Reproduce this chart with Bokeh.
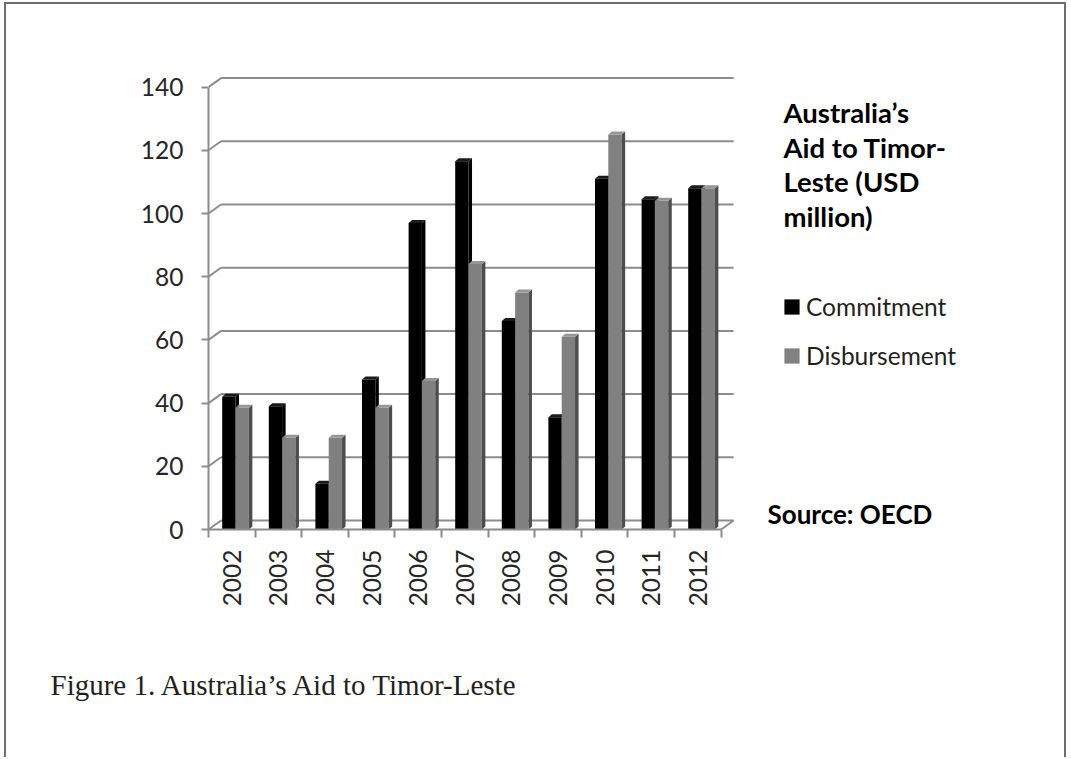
import math
import numpy as np
from bokeh.plotting import figure
from bokeh.models import Range1d, FixedTicker, Label, Legend, LegendItem, ColumnDataSource, Title
from bokeh.embed import file_html
from bokeh.resources import INLINE

# ---- data ----
years = ["2002", "2003", "2004", "2005", "2006", "2007", "2008", "2009", "2010", "2011", "2012"]
commitment = [42, 39, 14.5, 47.5, 97, 116.5, 66, 35.5, 111, 104.5, 108]
disbursement = [38.5, 29, 29, 38.5, 47, 84, 75, 61, 125, 104, 108]
y_ticks = [0, 20, 40, 60, 80, 100, 120, 140]
title_lines = ["Australia\u2019s", "Aid to Timor-", "Leste (USD", "million)"]
source_text = "Source: OECD"
caption = "Figure 1. Australia\u2019s Aid to Timor-Leste"

# ---- layout constants (pixels per data unit) ----
PX_X = 46.6
PX_Y = 3.16
W, H = 1062, 755
FL, FR, FT, FB = 202, 8, 56, 230
fw = W - FL - FR
fh = H - FT - FB

p = figure(width=W, height=H, title=None,
           x_range=Range1d(0, fw / PX_X), y_range=Range1d(0, fh / PX_Y),
           output_backend="svg", toolbar_location=None,
           min_border_left=FL, min_border_right=FR, min_border_top=FT, min_border_bottom=FB)
p.styles = {"margin-left": "4px", "margin-top": "2px",
            "border-left": "2px solid #6d6d6d", "border-top": "2px solid #6d6d6d",
            "border-right": "2px solid #6d6d6d"}
p.outline_line_color = None
p.xgrid.visible = False
p.ygrid.visible = False

GRID = "#8c8c8c"
n = len(years)
idx = np.arange(n)

# ---- 3D back wall gridlines ----
bdx = 12.5 / PX_X
bdy = 9.0 / PX_Y
yt = np.array(y_ticks, dtype=float)
p.segment(x0=np.zeros_like(yt), y0=yt, x1=np.full_like(yt, bdx), y1=yt + bdy,
          line_color=GRID, line_width=2)
p.segment(x0=np.full_like(yt, bdx), y0=yt + bdy, x1=np.full_like(yt, n + bdx), y1=yt + bdy,
          line_color=GRID, line_width=2)
p.segment(x0=[n], y0=[0], x1=[n + bdx], y1=[bdy], line_color=GRID, line_width=2)

# ---- bars ----
bw = 0.286
c_x = idx + 0.437
d_x = idx + 0.723
sdx = 3.5 / PX_X
sdy = 3.0 / PX_Y

c_vals = np.array(commitment, dtype=float)
d_vals = np.array(disbursement, dtype=float)

def faces(xc, vals):
    xl = xc - bw / 2
    xr = xc + bw / 2
    side_xs = [[a, a + sdx, a + sdx, a] for a in xr]
    side_ys = [[0, sdy, v + sdy, v] for v in vals]
    top_xs = [[l, l + sdx, r + sdx, r] for l, r in zip(xl, xr)]
    top_ys = [[v, v + sdy, v + sdy, v] for v in vals]
    return side_xs, side_ys, top_xs, top_ys

src_c = ColumnDataSource(dict(x=c_x, top=c_vals))
src_d = ColumnDataSource(dict(x=d_x, top=d_vals))

sx, sy, tx, ty = faces(c_x, c_vals)
p.patches(sx, sy, fill_color="#000000", line_color=None)
p.patches(tx, ty, fill_color="#1a1a1a", line_color=None)
r_c = p.vbar(x="x", top="top", bottom=0, width=bw, source=src_c,
             fill_color="#000000", line_color=None)

sx, sy, tx, ty = faces(d_x, d_vals)
r_d = p.vbar(x="x", top="top", bottom=0, width=bw, source=src_d,
             fill_color="#808080", line_color=None)
p.patches(sx, sy, fill_color="#4d4d4d", line_color=None)
p.patches(tx, ty, fill_color="#969696", line_color=None)

# ---- axes ----
ya = p.yaxis[0]
ya.ticker = FixedTicker(ticks=y_ticks)
ya.bounds = (0, 140)
ya.axis_line_color = GRID
ya.axis_line_width = 2
ya.major_tick_line_color = GRID
ya.major_tick_line_width = 2
ya.major_tick_out = 7
ya.major_tick_in = 0
ya.minor_tick_line_color = None
ya.major_label_standoff = 18
ya.major_label_text_font = "Lato"
ya.major_label_text_font_size = "24.5px"
ya.major_label_text_color = "#262626"

xa = p.xaxis[0]
centers = [i + 0.5 for i in range(n)]
xa.ticker = FixedTicker(ticks=centers, minor_ticks=list(range(n + 1)))
xa.major_label_overrides = {c: y for c, y in zip(centers, years)}
xa.bounds = (0, n)
xa.axis_line_color = GRID
xa.axis_line_width = 2
xa.major_tick_line_color = None
xa.major_tick_out = 0
xa.major_tick_in = 0
xa.minor_tick_line_color = GRID
xa.minor_tick_line_width = 2
xa.minor_tick_out = 8
xa.minor_tick_in = 0
xa.major_label_orientation = math.pi / 2
xa.major_label_standoff = 12
xa.major_label_text_font = "Lato"
xa.major_label_text_font_size = "24.5px"
xa.major_label_text_color = "#262626"

# ---- caption (below the axis) ----
cap = Title(text=caption, align="left", offset=50 - 208, standoff=115,
            text_font="Liberation Serif", text_font_size="29px",
            text_font_style="normal", text_color="#231f20")
p.add_layout(cap, "below")

# ---- legend ----
legend = Legend(items=[LegendItem(label="Commitment", renderers=[r_c]),
                       LegendItem(label="Disbursement", renderers=[r_d])],
                location=(574, 159), orientation="vertical",
                glyph_width=19, glyph_height=19, label_standoff=5,
                label_height=24, spacing=20, padding=0, margin=0,
                border_line_color=None, background_fill_alpha=0,
                label_text_font="Lato", label_text_font_size="24.5px",
                label_text_color="#231f20")
p.add_layout(legend, "center")

# ---- texts ----
def dx_(X):
    return (X - 208) / PX_X

def dy_(Y):
    return (529 - Y) / PX_Y

for line, base in zip(title_lines, [112, 146.5, 181, 215.5]):
    p.add_layout(Label(x=dx_(783), y=dy_(base), text=line, text_font="Lato",
                       text_font_size="27.5px", text_font_style="bold",
                       text_color="#000000", text_baseline="alphabetic"))

p.add_layout(Label(x=dx_(767), y=dy_(513), text=source_text, text_font="Lato",
                   text_font_size="26px", text_font_style="bold",
                   text_color="#000000", text_baseline="alphabetic"))

open("out.html", "w").write(file_html(p, INLINE))
